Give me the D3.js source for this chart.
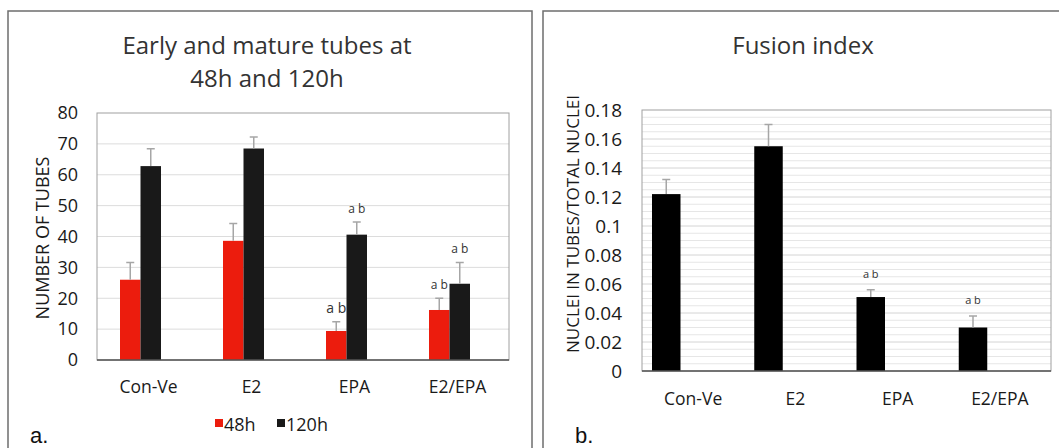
<!DOCTYPE html>
<meta charset="utf-8">
<style>
  body { margin: 0; background: #fff; }
  svg { font-family: "Open Sans", sans-serif; }
  .panel { fill: none; stroke: #6e6e6e; stroke-width: 1.5; }
  .frame { fill: none; stroke: #a0a0a0; stroke-width: 1; }
  .grid line { stroke: #dcdcdc; }
  .grid2 line { stroke: #e6e6e6; }
  .grid2 line.major { stroke: #d4d4d4; }
  .base { stroke: #555; stroke-width: 1.5; }
  .err { stroke: #a6a6a6; stroke-width: 1.5; fill: none; }
  .axis path, .axis line { display: none; }
  .axis text { fill: #1a1a1a; font-family: "Open Sans", sans-serif; }
  .sig { fill: #333; text-anchor: middle; }
</style>
<body>
</body>
<script src="https://cdn.jsdelivr.net/npm/d3@7"></script>
<script>
  const categories = ['Con-Ve', 'E2', 'EPA', 'E2/EPA'];
  const series = ['48h', '120h'];
  const colors = {'48h': '#ec1c0d', '120h': '#191919'};

  // panel a: number of tubes
  const tubes48 = [26.0, 38.6, 9.4, 16.2];
  const tubes48Err = [5.6, 5.6, 3.0, 3.8];
  const tubes120 = [62.8, 68.5, 40.6, 24.7];
  const tubes120Err = [5.6, 3.7, 4.1, 6.9];
  const tubes48Sig = ['', '', 'a b', 'a b'];
  const tubes120Sig = ['', '', 'a b', 'a b'];
  const tubeTicks = [0, 10, 20, 30, 40, 50, 60, 70, 80];

  // panel b: fusion index
  const fusion = [0.122, 0.155, 0.051, 0.030];
  const fusionErr = [0.010, 0.015, 0.005, 0.008];
  const fusionSig = ['', '', 'a b', 'a b'];
  const fusionTicks = [0, 0.02, 0.04, 0.06, 0.08, 0.1, 0.12, 0.14, 0.16, 0.18];

  const W = 1059, H = 448;
  const svg = d3.select('body').append('svg')
    .attr('width', W).attr('height', H);

  // outer panel frames
  svg.append('rect').attr('class', 'panel')
    .attr('x', 8).attr('y', 11).attr('width', 524).attr('height', 450);
  svg.append('rect').attr('class', 'panel')
    .attr('x', 543).attr('y', 11).attr('width', 530).attr('height', 450);

  // ---------- panel a ----------
  const ga = svg.append('g');
  const xA = d3.scaleBand().domain(categories).range([97, 509]);
  const xAin = d3.scaleBand().domain(series).range([23, 64]);
  const yA = d3.scaleLinear().domain([0, 80]).range([360, 113]);

  ga.append('g').attr('class', 'grid')
    .selectAll('line').data(tubeTicks.filter(d => d > 0 && d < 80))
    .join('line')
    .attr('x1', 97).attr('x2', 509)
    .attr('y1', d => yA(d)).attr('y2', d => yA(d));
  ga.append('rect').attr('class', 'frame')
    .attr('x', 97).attr('y', yA(80)).attr('width', 412).attr('height', yA(0) - yA(80));

  const rowsA = [];
  categories.forEach((c, i) => {
    rowsA.push({c, s: '48h', v: tubes48[i], e: tubes48Err[i], sig: tubes48Sig[i]});
    rowsA.push({c, s: '120h', v: tubes120[i], e: tubes120Err[i], sig: tubes120Sig[i]});
  });

  ga.selectAll('rect.bar').data(rowsA).join('rect').attr('class', 'bar')
    .attr('x', d => xA(d.c) + xAin(d.s))
    .attr('width', xAin.bandwidth())
    .attr('y', d => yA(d.v))
    .attr('height', d => yA(0) - yA(d.v))
    .attr('fill', d => colors[d.s]);

  ga.append('g').attr('class', 'err')
    .selectAll('path').data(rowsA).join('path')
    .attr('d', d => {
      const cx = xA(d.c) + xAin(d.s) + xAin.bandwidth() / 2;
      const y0 = yA(d.v), y1 = yA(d.v + d.e);
      return `M${cx},${y0}V${y1}M${cx - 4},${y1}H${cx + 4}`;
    });

  ga.selectAll('text.sig').data(rowsA.filter(d => d.sig)).join('text')
    .attr('class', 'sig')
    .attr('x', d => xA(d.c) + xAin(d.s) + xAin.bandwidth() / 2)
    .attr('y', d => yA(d.v + d.e) - 9)
    .style('font-size', d => (d.c === 'EPA' && d.s === '48h') ? '14px' : '12px')
    .text(d => d.sig);

  ga.append('line').attr('class', 'base')
    .attr('x1', 97).attr('x2', 509).attr('y1', yA(0)).attr('y2', yA(0));

  ga.append('g').attr('class', 'axis')
    .attr('transform', 'translate(84,0)')
    .call(d3.axisLeft(yA).tickValues(tubeTicks).tickSize(0).tickPadding(6))
    .attr('font-family', null)
    .selectAll('text').style('font-size', '18px');

  ga.append('g').attr('class', 'axis')
    .attr('transform', 'translate(0,381)')
    .call(d3.axisBottom(xA).tickSize(0).tickPadding(0))
    .attr('font-family', null)
    .selectAll('text').style('font-size', '17.5px');

  ga.append('text')
    .attr('transform', 'translate(49,238) rotate(-90)')
    .attr('text-anchor', 'middle').style('font-size', '18px').attr('fill', '#1a1a1a')
    .text('NUMBER OF TUBES');

  ga.append('text').attr('text-anchor', 'middle').style('font-size', '24px').attr('fill', '#333')
    .selectAll('tspan').data(['Early and mature tubes at', '48h and 120h']).join('tspan')
    .attr('x', 267).attr('y', (d, i) => 54 + i * 33).text(d => d);

  // legend
  const leg = ga.append('g').attr('transform', 'translate(215,419)');
  const legX = {'48h': 0, '120h': 62};
  series.forEach(s => {
    leg.append('rect').attr('x', legX[s]).attr('y', 0).attr('width', 8).attr('height', 8)
      .attr('fill', colors[s]);
    leg.append('text').attr('x', legX[s] + 9).attr('y', 12)
      .style('font-size', '18px').attr('fill', '#1a1a1a').text(s);
  });

  ga.append('text').attr('x', 30).attr('y', 443)
    .style('font-family', '"Liberation Sans", Arial, sans-serif').style('font-size', '22px')
    .attr('fill', '#111').text('a.');

  // ---------- panel b ----------
  const gb = svg.append('g');
  const xB = d3.scaleBand().domain(categories).range([642, 1051]);
  const xBin = d3.scaleBand().domain(['v', 'none']).range([10, 67]);
  const yB = d3.scaleLinear().domain([0, 0.18]).range([371, 110]);

  const minor = d3.range(1, 36).map(i => i * 0.005);
  gb.append('g').attr('class', 'grid2')
    .selectAll('line').data(minor).join('line')
    .classed('major', (d, i) => (i + 1) % 4 === 0)
    .attr('x1', 642).attr('x2', 1051)
    .attr('y1', d => yB(d)).attr('y2', d => yB(d));
  gb.append('rect').attr('class', 'frame')
    .attr('x', 642).attr('y', yB(0.18)).attr('width', 409).attr('height', yB(0) - yB(0.18));

  const rowsB = categories.map((c, i) => ({c, v: fusion[i], e: fusionErr[i], sig: fusionSig[i]}));

  gb.selectAll('rect.bar').data(rowsB).join('rect').attr('class', 'bar')
    .attr('x', d => xB(d.c) + xBin('v'))
    .attr('width', xBin.bandwidth())
    .attr('y', d => yB(d.v))
    .attr('height', d => yB(0) - yB(d.v))
    .attr('fill', '#000');

  gb.append('g').attr('class', 'err')
    .selectAll('path').data(rowsB).join('path')
    .attr('d', d => {
      const cx = xB(d.c) + xBin('v') + xBin.bandwidth() / 2;
      const y0 = yB(d.v), y1 = yB(d.v + d.e);
      return `M${cx},${y0}V${y1}M${cx - 4},${y1}H${cx + 4}`;
    });

  gb.selectAll('text.sig').data(rowsB.filter(d => d.sig)).join('text')
    .attr('class', 'sig')
    .attr('x', d => xB(d.c) + xBin('v') + xBin.bandwidth() / 2)
    .attr('y', d => yB(d.v + d.e) - 12)
    .style('font-size', '11px')
    .text(d => d.sig);

  gb.append('line').attr('class', 'base')
    .attr('x1', 642).attr('x2', 1051).attr('y1', yB(0)).attr('y2', yB(0));

  gb.append('g').attr('class', 'axis')
    .attr('transform', 'translate(628,0)')
    .call(d3.axisLeft(yB).tickValues(fusionTicks).tickSize(0).tickPadding(6)
      .tickFormat(d => String(+d.toFixed(2))))
    .attr('font-family', null)
    .selectAll('text').style('font-size', '19px');

  gb.append('g').attr('class', 'axis')
    .attr('transform', 'translate(0,393)')
    .call(d3.axisBottom(xB).tickSize(0).tickPadding(0))
    .attr('font-family', null)
    .selectAll('text').style('font-size', '17.5px');

  gb.append('text')
    .attr('transform', 'translate(579,224) rotate(-90)')
    .attr('text-anchor', 'middle').style('font-size', '17px').attr('fill', '#1a1a1a')
    .text('NUCLEI IN TUBES/TOTAL NUCLEI');

  gb.append('text').attr('x', 803).attr('y', 54)
    .attr('text-anchor', 'middle').style('font-size', '24px').attr('fill', '#333')
    .text('Fusion index');

  gb.append('text').attr('x', 575).attr('y', 443)
    .style('font-family', '"Liberation Sans", Arial, sans-serif').style('font-size', '22px')
    .attr('fill', '#111').text('b.');
</script>
